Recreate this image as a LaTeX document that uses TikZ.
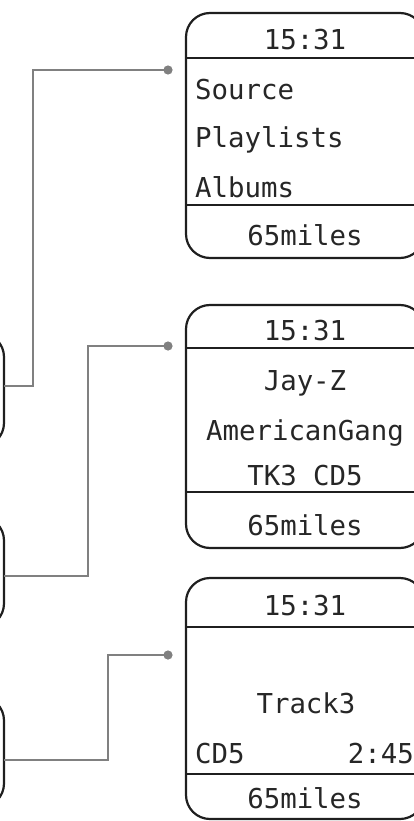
\documentclass[tikz,border=0pt]{standalone}
\usepackage{fontspec}
\setmonofont{DejaVu Sans Mono}
\begin{document}
\begin{tikzpicture}[x=1pt, y=-1pt,
    screen/.style={draw=black!88, line width=2.2pt, rounded corners=24pt, outer sep=0pt, minimum width=238pt, anchor=north west},
    knob/.style={draw=black!88, line width=2.2pt, rounded corners=24pt, outer sep=0pt, minimum width=200pt, anchor=east},
    rule/.style={draw=black!88, line width=2.2pt},
    wire/.style={draw=black!50, line width=2.3pt},
    lcd/.style={font=\ttfamily\fontsize{27.4}{30}\selectfont, inner sep=0pt, anchor=base, text=black!85}]
\useasboundingbox (0,0) rectangle (414,821);
\clip (0,0) rectangle (414,821);

% cut-off boxes at the left edge
\node[knob, minimum height=114pt](box1) at (4,390){};
\node[knob, minimum height=111pt](box2) at (4,572){};
\node[knob, minimum height=111pt](box3) at (4,752){};

% screen 1: menu
\node[screen, minimum height=245pt](scr1) at (186,13){};
\draw[rule](scr1.west|-0,58)--(scr1.east|-0,58);
\draw[rule](scr1.west|-0,205)--(scr1.east|-0,205);
\node[lcd](time1) at (305,50){15:31};
\node[lcd, anchor=base west](src) at (195,100){Source};
\node[lcd, anchor=base west](plst) at (195,148){Playlists};
\node[lcd, anchor=base west](albm) at (195,197){Albums};
\node[lcd](dist1) at (305,245){65miles};

% screen 2: artist
\node[screen, minimum height=243pt](scr2) at (186,305){};
\draw[rule](scr2.west|-0,348)--(scr2.east|-0,348);
\draw[rule](scr2.west|-0,492)--(scr2.east|-0,492);
\node[lcd](time2) at (305,340){15:31};
\node[lcd](artist) at (305,390){Jay-Z};
\node[lcd](album) at (305,440){AmericanGang};
\node[lcd](tkcd) at (305,485){TK3 CD5};
\node[lcd](dist2) at (305,535){65miles};

% screen 3: track
\node[screen, minimum height=241pt](scr3) at (186,578){};
\draw[rule](scr3.west|-0,627)--(scr3.east|-0,627);
\draw[rule](scr3.west|-0,774)--(scr3.east|-0,774);
\node[lcd](time3) at (305,615){15:31};
\node[lcd](track) at (306,713){Track3};
\node[lcd, anchor=base west](disc) at (195,763){CD5};
\node[lcd, anchor=base east](elap) at (414,763){2:45};
\node[lcd](dist3) at (305,808){65miles};

% connectors
\coordinate(dot1) at (168,70);
\coordinate(dot2) at (168,346);
\coordinate(dot3) at (168,655);
\coordinate(bend1) at (33,386);
\coordinate(bend2) at (88,576);
\coordinate(bend3) at (108,760);
\draw[wire](dot1)-|(bend1)--(box1.east|-bend1);
\draw[wire](dot2)-|(bend2)--(box2.east|-bend2);
\draw[wire](dot3)-|(bend3)--(box3.east|-bend3);
\foreach \d in {dot1,dot2,dot3}
    \fill[black!50](\d) circle(4.6pt);
\end{tikzpicture}
\end{document}
